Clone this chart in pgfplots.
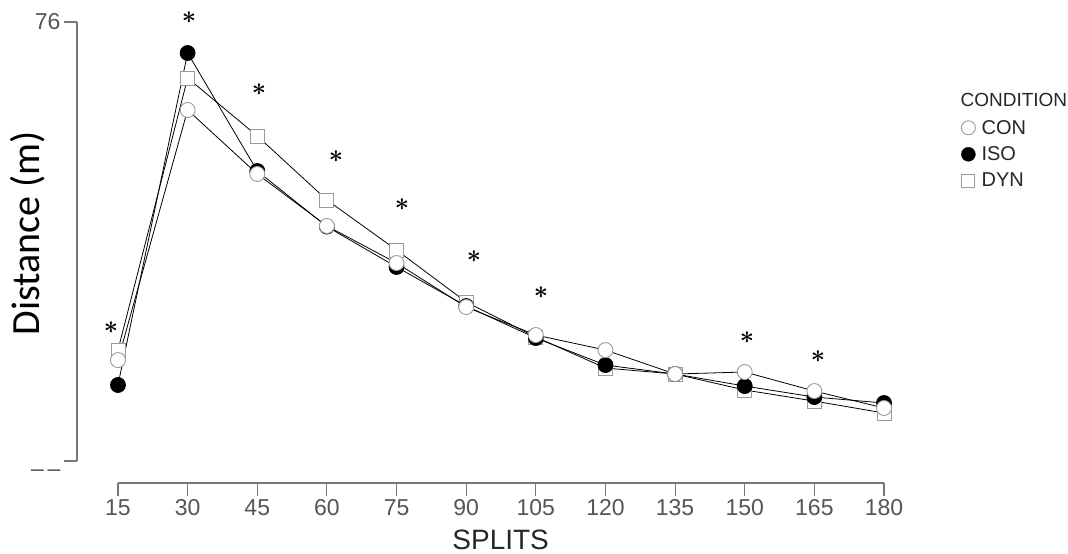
\documentclass[border=0pt]{standalone}
\usepackage{pgfplots}
\pgfplotsset{compat=1.18}
\usepackage{fontspec}
\setmainfont{Liberation Sans}
\newfontfamily\calibri{Carlito}
\definecolor{tickgray}{HTML}{555555}
\definecolor{axgray}{HTML}{777777}
\definecolor{mkgray}{HTML}{9A9A9A}
\tikzset{star/.style={inner sep=0pt, font=\fontsize{33}{33}\selectfont\boldmath}}
\begin{document}
\begin{tikzpicture}
\path[use as bounding box] (-77pt,-71pt) rectangle (991pt,483pt);
\begin{axis}[
  scale only axis, width=807pt, height=461pt,
  xmin=6.17, xmax=180, ymin=23.5, ymax=76,
  axis lines*=left, axis line style={draw=none},
  clip=false,
  xtick={15,30,...,180}, ytick={26,76},
  yticklabels={\raisebox{-15pt}[0pt][0pt]{\textendash\,\textendash}, 76},
  /pgf/number format/assume math mode=true,
  tick style={axgray, line width=1.1pt},
  major tick length=13pt, tick align=outside,
  xticklabel style={font=\fontsize{23}{23}\selectfont, text=tickgray, yshift=0pt},
  yticklabel style={font=\fontsize{23}{23}\selectfont, text=tickgray},
  xlabel={SPLITS},
  xlabel style={font=\fontsize{28}{28}\selectfont, text=black!85, at={(axis description cs:0.525,-0.123)}, anchor=center},
  ylabel={\calibri Distance (m)},
  ylabel style={font=\fontsize{40}{40}\selectfont, at={(axis description cs:-0.0607,0.542)}, anchor=center, rotate=0},
  legend style={at={(axis description cs:1.0954,0.792)}, anchor=north west, draw=none, fill=none,
    font=\fontsize{20}{20}\selectfont, row sep=7pt, inner sep=0pt, cells={anchor=west}, text=black!85},
  legend image code/.code={\path (-7pt,0) (11pt,0); \draw[#1,draw=none] plot coordinates {(0pt,0pt)};},
  legend cell align=left,
]
\draw[axgray, line width=1.3pt] (axis cs:6.17,26) -- (axis cs:6.17,76);
\draw[axgray, line width=1.3pt] (axis cs:15,23.5) -- (axis cs:180,23.5);

\addplot[black, line width=0.8pt, mark=square*, mark size=7pt,
  mark options={draw=mkgray, fill=white, line width=0.9pt}, forget plot]
  coordinates {(15,38.64) (30,69.62) (45,63.02) (60,55.73) (75,50.03) (90,44.11)
   (105,40.12) (120,36.59) (135,35.91) (150,34.09) (165,32.83) (180,31.47)};
\addplot[black, line width=0.8pt, mark=*, mark size=7.5pt,
  mark options={draw=black, fill=black}, forget plot]
  coordinates {(15,34.66) (30,72.47) (45,59.03) (60,52.70) (75,48.10) (90,43.65)
   (105,40.01) (120,36.93) (135,35.91) (150,34.54) (165,33.29) (180,32.61)};
\addplot[black, line width=0.8pt, mark=*, mark size=7.5pt,
  mark options={draw=mkgray, fill=white, line width=0.9pt}, forget plot]
  coordinates {(15,37.50) (30,65.98) (45,58.69) (60,52.77) (75,48.55) (90,43.54)
   (105,40.35) (120,38.64) (135,35.91) (150,36.14) (165,33.97) (180,32.04)};

\addlegendimage{mark=*, mark size=7pt, mark options={draw=mkgray, fill=white, line width=0.9pt}}
\addlegendentry{CON}
\addlegendimage{mark=*, mark size=7pt, mark options={draw=black, fill=black}}
\addlegendentry{ISO}
\addlegendimage{mark=square*, mark size=6.5pt, mark options={draw=mkgray, fill=white, line width=0.9pt}}
\addlegendentry{DYN}

\node[anchor=west, font=\fontsize{19}{19}\selectfont, text=black!85] at (axis description cs:1.0905,0.831) {CONDITION};

\node[star] at (axis cs:13.5,41.15) {$\ast$};
\node[star] at (axis cs:30.3,76.5) {$\ast$};
\node[star] at (axis cs:45.4,68.26) {$\ast$};
\node[star] at (axis cs:61.96,60.62) {$\ast$};
\node[star] at (axis cs:76.17,55.16) {$\ast$};
\node[star] at (axis cs:91.68,49.23) {$\ast$};
\node[star] at (axis cs:106.1,45.13) {$\ast$};
\node[star] at (axis cs:150.5,40.01) {$\ast$};
\node[star] at (axis cs:165.8,37.85) {$\ast$};
\end{axis}
\end{tikzpicture}
\end{document}
